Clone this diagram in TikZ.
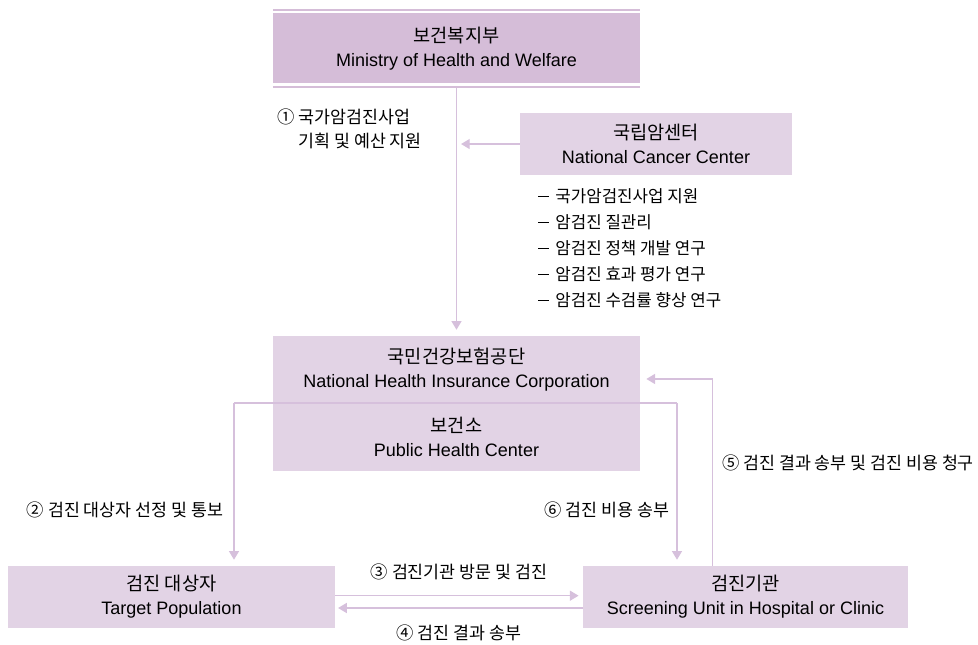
\documentclass[tikz,border=0pt]{standalone}
\usepackage{fontspec}
\setmainfont{Liberation Sans}
\newfontfamily\kr{Noto Sans CJK KR}
\usepackage{tikz}
\usetikzlibrary{arrows.meta,positioning}
\definecolor{boxdark}{RGB}{213,189,216}
\definecolor{boxlight}{RGB}{226,211,229}
\definecolor{linkcol}{RGB}{214,192,220}
\newcommand{\ko}[1]{{\kr\fontsize{14}{18}\selectfont #1}}
\newcommand{\dashitem}{\rule[0.32em]{0.62em}{0.07em}\hspace{0.4em}}
\tikzset{
  orgbox/.style={fill=boxlight, align=center, inner sep=0pt,
    font=\fontsize{13.5}{18}\selectfont},
  topbox/.style={orgbox, fill=boxdark},
  link/.style={draw=linkcol, line width=1pt},
  linkarrow/.style={link, -{Triangle[length=6.5pt,width=7.5pt]}},
  steptext/.style={align=left, inner sep=0pt, font=\kr\fontsize{13}{18}\selectfont}
}
\begin{document}
\begin{tikzpicture}[x=0.75pt,y=-0.75pt]
\useasboundingbox (0,0) rectangle (978,644);
% nodes
\node[topbox, minimum width=275pt, minimum height=52.5pt] (mohw) at (456.5,48.3) {\ko{보건복지부}\\Ministry of Health and Welfare};%
\draw[draw=boxdark, line width=1.5pt] ([yshift=2.25pt]mohw.north west) -- ([yshift=2.25pt]mohw.north east);
\draw[draw=boxdark, line width=1.5pt] ([yshift=-2.25pt]mohw.south west) -- ([yshift=-2.25pt]mohw.south east);

\node[orgbox, minimum width=204pt, minimum height=46.5pt] (ncc) at (656,144) {\ko{국립암센터}\\National Cancer Center};%

\node[orgbox, minimum width=275pt, minimum height=50.25pt] (nhic) at (456.5,369.5) {\ko{국민건강보험공단}\\National Health Insurance Corporation};%
\node[orgbox, minimum width=275pt, minimum height=50.25pt, below=0pt of nhic] (phc) {\ko{보건소}\\Public Health Center};%

\node[orgbox, minimum width=245pt, minimum height=46.5pt] (target) at (171.5,597) {\ko{검진 대상자}\\Target Population};%
\node[orgbox, minimum width=244pt, minimum height=46.5pt] (scr) at (745.5,597) {\ko{검진기관}\\Screening Unit in Hospital or Clinic};%

% labels
\node[steptext, anchor=west] (s1) at (277,129) {① 국가암검진사업\\\phantom{①} 기획 및 예산 지원};%
\node[steptext, anchor=west, font=\kr\fontsize{12.6}{19.5}\selectfont] (tasks) at (538,248) {\dashitem 국가암검진사업 지원\\\dashitem 암검진 질관리\\\dashitem 암검진 정책 개발 연구\\\dashitem 암검진 효과 평가 연구\\\dashitem 암검진 수검률 향상 연구};%
\node[steptext] (s2) at (125,510) {② 검진 대상자 선정 및 통보};%
\node[steptext] (s6) at (607,510) {⑥ 검진 비용 송부};%
\node[steptext] (s5) at (848,463) {⑤ 검진 결과 송부 및 검진 비용 청구};%
\node[steptext] (s3) at (459,572) {③ 검진기관 방문 및 검진};%
\node[steptext] (s4) at (459,633) {④ 검진 결과 송부};%

% connectors
\draw[linkarrow, shorten <=3.5pt, shorten >=4.5pt] (mohw.south) -- (nhic.north);
\draw[linkarrow, shorten >=3.4pt] (ncc.west) -- (mohw.south |- ncc.west);

\coordinate (lft) at (234,403);
\coordinate (rgt) at (677,403);
\draw[link] (lft) -- (rgt);
\draw[linkarrow, shorten >=4.5pt] (lft) -- (lft |- target.north);
\draw[linkarrow, shorten >=4.5pt] (rgt) -- (rgt |- scr.north);

\draw[linkarrow, shorten >=4.7pt] ([xshift=-25pt]scr.north) |- ([yshift=-7.1pt]nhic.east);
\draw[linkarrow, shorten >=3pt] ([yshift=1pt]target.east) -- ([yshift=1pt]scr.west);
\draw[linkarrow, shorten >=2.25pt] ([yshift=-8.25pt]scr.west) -- ([yshift=-8.25pt]target.east);
\end{tikzpicture}
\end{document}
